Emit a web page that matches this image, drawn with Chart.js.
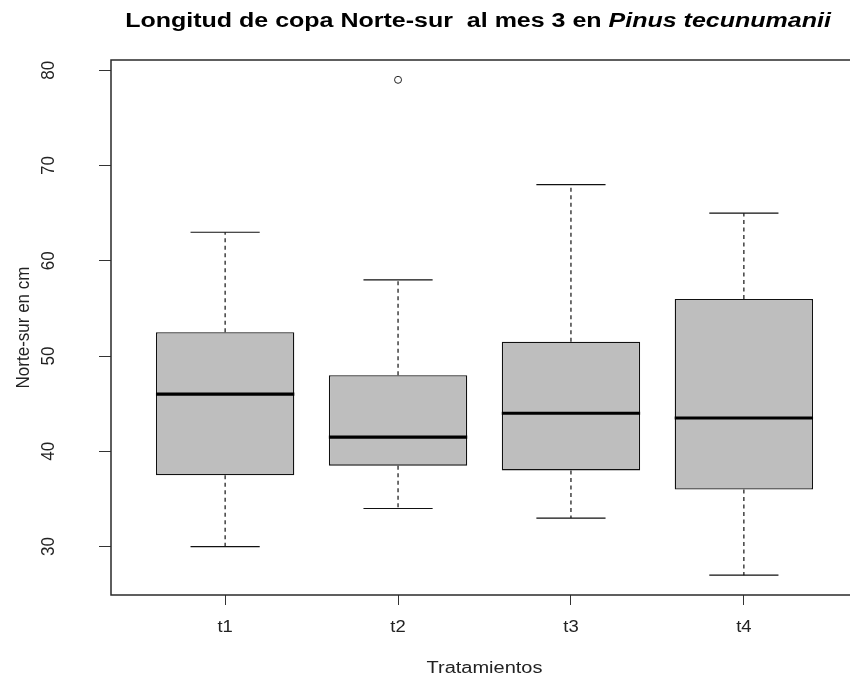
<!DOCTYPE html>
<html>
<head>
<meta charset="utf-8">
<title>Longitud de copa Norte-sur al mes 3 en Pinus tecunumanii</title>
<script src="https://cdn.jsdelivr.net/npm/chart.js@4"></script>
<style>
  html, body { margin: 0; padding: 0; background: #fff; overflow: hidden; }
  #wrap { width: 850px; height: 677px; overflow: hidden; position: relative; }
  canvas { display: block; }
</style>
</head>
<body>
<div id="wrap"><canvas id="chart" width="870" height="677"></canvas></div>
<script>
// Five-number summaries per treatment (cm)
const categories  = ['t1', 't2', 't3', 't4'];
const whiskerLow  = [30, 34, 33, 27];
const q1          = [37.5, 38.5, 38, 36];
const median      = [46, 41.5, 44, 43.5];
const q3          = [52.5, 48, 51.5, 56];
const whiskerHigh = [63, 58, 68, 65];
// Points beyond the whiskers: group index and value
const outlierGroup = [1];
const outlierValue = [79];
const yTicks = [30, 40, 50, 60, 70, 80];

const titleMain   = 'Longitud de copa Norte-sur  al mes 3 en ';
const titleItalic = 'Pinus tecunumanii';
const xTitle = 'Tratamientos';
const yTitle = 'Norte-sur en cm';

// Axis ranges padded by 4% like base R graphics
const lo = Math.min(...whiskerLow, ...outlierValue);
const hi = Math.max(...whiskerHigh, ...outlierValue);
const yPad = (hi - lo) * 0.04;
const xPad = categories.length * 0.04;
const xMin = -0.5 - xPad, xMax = categories.length - 0.5 + xPad;

const FONT = '"Liberation Sans", Arial, Helvetica, sans-serif';
const SX = 1.25; // horizontal stretch of the title lettering

function putText(ctx, str, x, y, font, o) {
  o = o || {};
  ctx.save();
  ctx.translate(x, y);
  ctx.scale(o.sx || 1, 1);
  if (o.rot) ctx.rotate(o.rot);
  ctx.font = font;
  ctx.fillStyle = o.color || '#000';
  ctx.textAlign = o.align || 'center';
  ctx.textBaseline = o.baseline || 'alphabetic';
  ctx.fillText(str, 0, 0);
  ctx.restore();
}

const boxParts = {
  id: 'boxParts',
  afterDatasetsDraw(chart) {
    const { ctx, scales: { x, y } } = chart;
    ctx.save();
    ctx.strokeStyle = '#111';
    categories.forEach((c, i) => {
      const cx = x.getPixelForValue(i);
      // dashed whiskers
      ctx.lineWidth = 1.2;
      ctx.setLineDash([4, 3.5]);
      ctx.beginPath();
      ctx.moveTo(cx, y.getPixelForValue(q3[i]));
      ctx.lineTo(cx, y.getPixelForValue(whiskerHigh[i]));
      ctx.moveTo(cx, y.getPixelForValue(q1[i]));
      ctx.lineTo(cx, y.getPixelForValue(whiskerLow[i]));
      ctx.stroke();
      // staples
      ctx.setLineDash([]);
      ctx.beginPath();
      [whiskerHigh[i], whiskerLow[i]].forEach(v => {
        const py = y.getPixelForValue(v);
        ctx.moveTo(x.getPixelForValue(i - 0.2), py);
        ctx.lineTo(x.getPixelForValue(i + 0.2), py);
      });
      ctx.stroke();
      // median bar
      ctx.lineWidth = 3.2;
      ctx.strokeStyle = '#000';
      ctx.beginPath();
      const my = y.getPixelForValue(median[i]);
      ctx.moveTo(x.getPixelForValue(i - 0.4), my);
      ctx.lineTo(x.getPixelForValue(i + 0.4), my);
      ctx.stroke();
      ctx.strokeStyle = '#111';
    });
    ctx.restore();
  },
  afterDraw(chart) {
    const { ctx, chartArea: a, scales: { x, y } } = chart;
    ctx.save();
    // plot frame
    ctx.strokeStyle = '#2a2a2a';
    ctx.lineWidth = 1.5;
    ctx.strokeRect(a.left, a.top, a.right - a.left, a.bottom - a.top);
    ctx.restore();

    // title: plain bold part followed by bold italic species name
    const fMain = 'bold 20px ' + FONT, fIt = 'italic bold 20px ' + FONT;
    ctx.save();
    ctx.font = fMain; const w1 = ctx.measureText(titleMain).width;
    ctx.font = fIt;   const w2 = ctx.measureText(titleItalic).width;
    ctx.restore();
    const tx = 478 - (w1 + w2) * SX / 2;
    putText(ctx, titleMain, tx, 27, fMain, { sx: SX, align: 'left' });
    putText(ctx, titleItalic, tx + w1 * SX, 27, fIt, { sx: SX, align: 'left' });

    // category labels
    categories.forEach((c, i) => {
      putText(ctx, c, x.getPixelForValue(i), 632, '16px ' + FONT, { sx: 1.15, color: '#222' });
    });
    putText(ctx, xTitle, (a.left + a.right) / 2, 673, '16px ' + FONT, { sx: 1.25, color: '#222' });

    // value labels, rotated like base R
    y.ticks.forEach(t => {
      putText(ctx, String(t.value), 54, y.getPixelForValue(t.value), '17px ' + FONT,
        { rot: -Math.PI / 2, sx: 1.05, color: '#222' });
    });
    putText(ctx, yTitle, 29, (a.top + a.bottom) / 2, '17px ' + FONT,
      { rot: -Math.PI / 2, sx: 1.1, color: '#222' });
  }
};

new Chart(document.getElementById('chart'), {
  type: 'bar',
  data: {
    datasets: [
      {
        type: 'bar',
        data: categories.map((c, i) => ({ x: i, y: [q1[i], q3[i]] })),
        backgroundColor: '#bebebe',
        borderColor: '#111',
        borderWidth: 1.3,
        borderSkipped: false,
        barPercentage: 0.8,
        categoryPercentage: 1,
        order: 2
      },
      {
        type: 'scatter',
        data: outlierGroup.map((g, k) => ({ x: g, y: outlierValue[k] })),
        pointStyle: 'circle',
        pointRadius: 3.5,
        borderColor: '#222',
        borderWidth: 1,
        backgroundColor: 'rgba(0,0,0,0)',
        order: 1
      }
    ]
  },
  options: {
    responsive: false,
    animation: false,
    events: [],
    layout: { padding: { left: 99, top: 60, right: 12, bottom: 72 } },
    plugins: { legend: { display: false }, tooltip: { enabled: false }, title: { display: false } },
    scales: {
      x: {
        type: 'linear', min: xMin, max: xMax, offset: false,
        afterBuildTicks: s => { s.ticks = categories.map((c, i) => ({ value: i })); },
        ticks: { display: false },
        grid: { offset: false, drawOnChartArea: false, drawTicks: true, tickLength: 10, color: '#333', lineWidth: 1 },
        border: { display: false }
      },
      y: {
        type: 'linear', min: lo - yPad, max: hi + yPad,
        afterBuildTicks: s => { s.ticks = yTicks.map(v => ({ value: v })); },
        ticks: { display: false },
        grid: { drawOnChartArea: false, drawTicks: true, tickLength: 12, color: '#333', lineWidth: 1 },
        border: { display: false }
      }
    }
  },
  plugins: [boxParts]
});
</script>
</body>
</html>
